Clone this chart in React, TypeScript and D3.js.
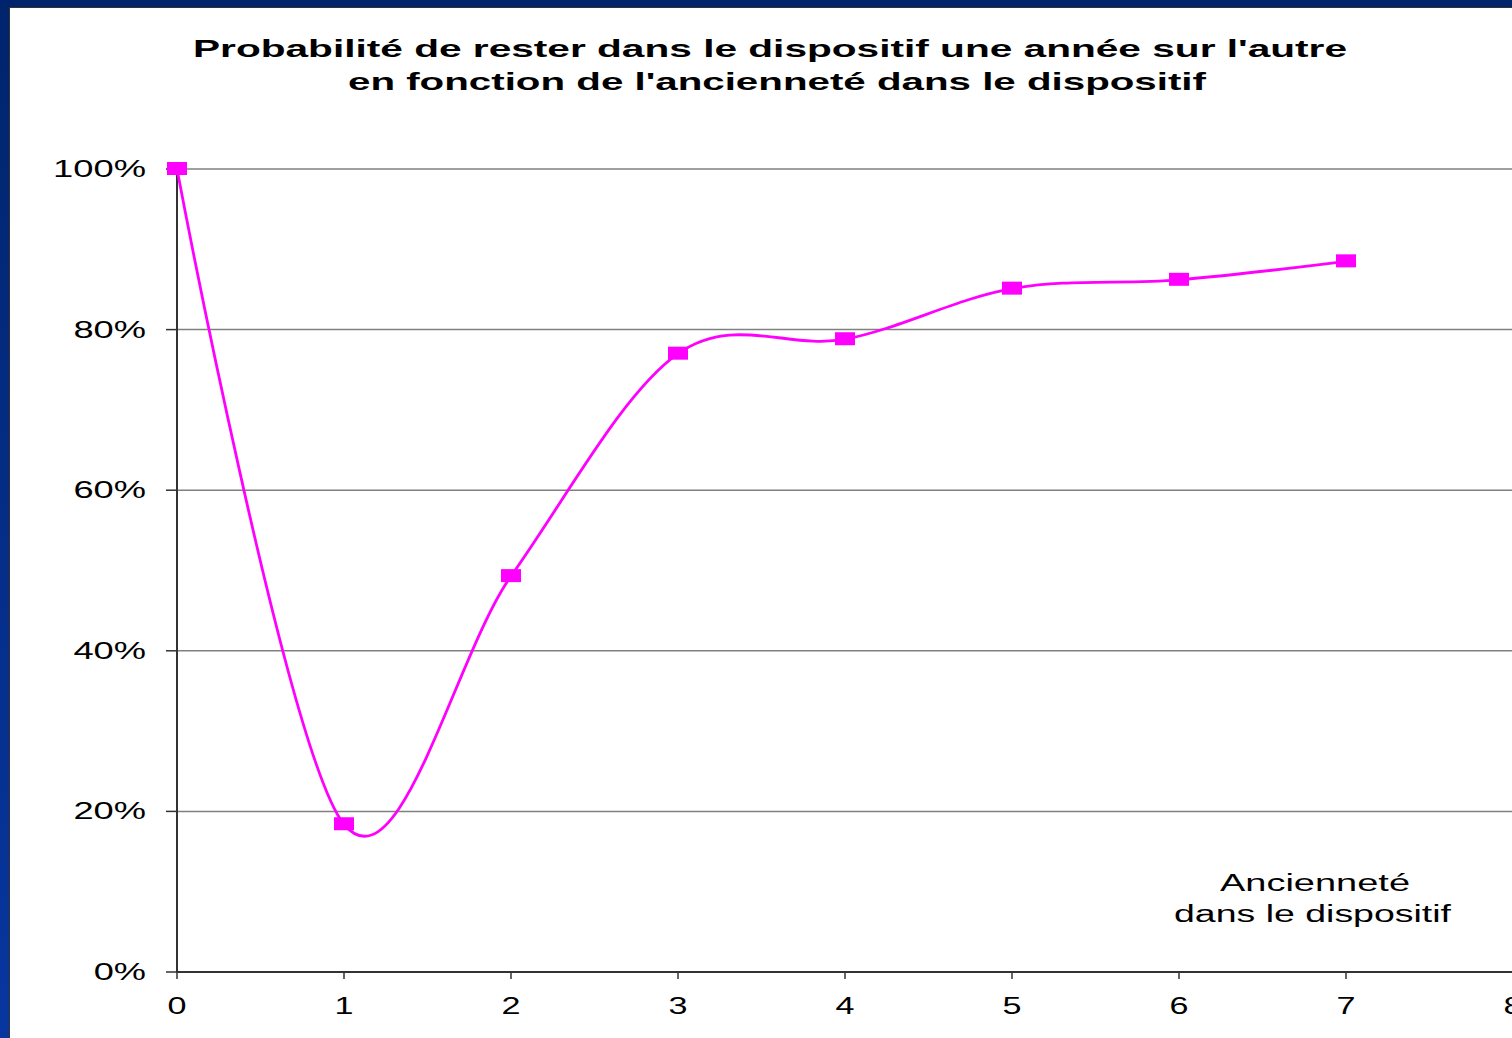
import * as d3 from "d3";
import React, { useEffect } from "react";

const years = [0, 1, 2, 3, 4, 5, 6, 7];
const probability = [1.0, 0.184, 0.493, 0.77, 0.788, 0.851, 0.862, 0.885];
const yTicks = [0, 0.2, 0.4, 0.6, 0.8, 1.0];
const xTicks = [0, 1, 2, 3, 4, 5, 6, 7, 8];
const titleLines = [
  "Probabilité de rester dans le dispositif une année sur l'autre",
  "en fonction de l'ancienneté dans le dispositif",
];
const axisLabel = ["Ancienneté", "dans le dispositif"];

const W = 1512;
const H = 1038;
const FONT = "Liberation Sans, Arial, sans-serif";

export default function App() {
  useEffect(() => {
    document.body.style.margin = "0";
  }, []);

  const x = d3.scaleLinear().domain([0, 8]).range([177, 1513]);
  const y = d3.scaleLinear().domain([0, 1]).range([972, 169]);

  const pts = years.map((yr, i) => [x(yr), y(probability[i])] as [number, number]);
  const line = d3.line().curve(d3.curveCardinal.tension(0))(pts) ?? "";
  const pct = d3.format(".0%");

  return (
    <svg width={W} height={H} style={{ display: "block" }}>
      <defs>
        <linearGradient id="frameL" x1="0" x2="0" y1="0" y2="1">
          <stop offset="0" stopColor="#00246c" />
          <stop offset="1" stopColor="#0836a0" />
        </linearGradient>
      </defs>
      <rect x={0} y={0} width={W} height={H} fill="url(#frameL)" />
      <rect x={0} y={0} width={W} height={7} fill="#00246c" />
      <rect x={10} y={7} width={W - 10} height={H - 7} fill="#ffffff" />
      <line x1={10} x2={W} y1={7.5} y2={7.5} stroke="#333" strokeWidth={1} />
      <line x1={9.5} x2={9.5} y1={7} y2={H} stroke="#333" strokeWidth={1} />

      {/* title */}
      <text x={193} y={57} fontFamily={FONT} fontWeight="bold" fontSize={24}
        textLength={1154} lengthAdjust="spacingAndGlyphs" fill="#000">
        {titleLines[0]}
      </text>
      <text x={348} y={90} fontFamily={FONT} fontWeight="bold" fontSize={24}
        textLength={858} lengthAdjust="spacingAndGlyphs" fill="#000">
        {titleLines[1]}
      </text>

      {/* gridlines */}
      {yTicks.filter(t => t > 0).map(t => (
        <line key={t} x1={177} x2={W} y1={y(t)} y2={y(t)} stroke="#808080" strokeWidth={1.5} />
      ))}

      {/* y ticks and labels */}
      {yTicks.map(t => {
        const s = pct(t);
        const len = (s.length - 1) * 20.3 + 32;
        return (
          <g key={t}>
            <line x1={166} x2={177} y1={y(t)} y2={y(t)} stroke="#333" strokeWidth={1.5} />
            <text x={146 - len} y={y(t) + 8} fontFamily={FONT} fontSize={24}
              textLength={len} lengthAdjust="spacingAndGlyphs" fill="#000">
              {s}
            </text>
          </g>
        );
      })}

      {/* x ticks and labels */}
      {xTicks.map(t => (
        <g key={t}>
          <line x1={x(t)} x2={x(t)} y1={972} y2={979} stroke="#333" strokeWidth={1.5} />
          <text x={x(t) - 9.5} y={1014} fontFamily={FONT} fontSize={24}
            textLength={19} lengthAdjust="spacingAndGlyphs" fill="#000">
            {t}
          </text>
        </g>
      ))}

      {/* axes */}
      <line x1={177} x2={177} y1={169} y2={973} stroke="#333" strokeWidth={2} />
      <line x1={176} x2={W} y1={972} y2={972} stroke="#333" strokeWidth={2} />

      {/* axis label */}
      <text x={1220} y={891} fontFamily={FONT} fontSize={23}
        textLength={190} lengthAdjust="spacingAndGlyphs" fill="#000">
        {axisLabel[0]}
      </text>
      <text x={1174} y={922} fontFamily={FONT} fontSize={23}
        textLength={277} lengthAdjust="spacingAndGlyphs" fill="#000">
        {axisLabel[1]}
      </text>

      {/* series */}
      <path d={line} fill="none" stroke="#ff00ff" strokeWidth={2.8} />
      {pts.map(([px, py], i) => (
        <rect key={i} x={px - 10} y={py - 7} width={20} height={13} fill="#ff00ff" />
      ))}
    </svg>
  );
}
